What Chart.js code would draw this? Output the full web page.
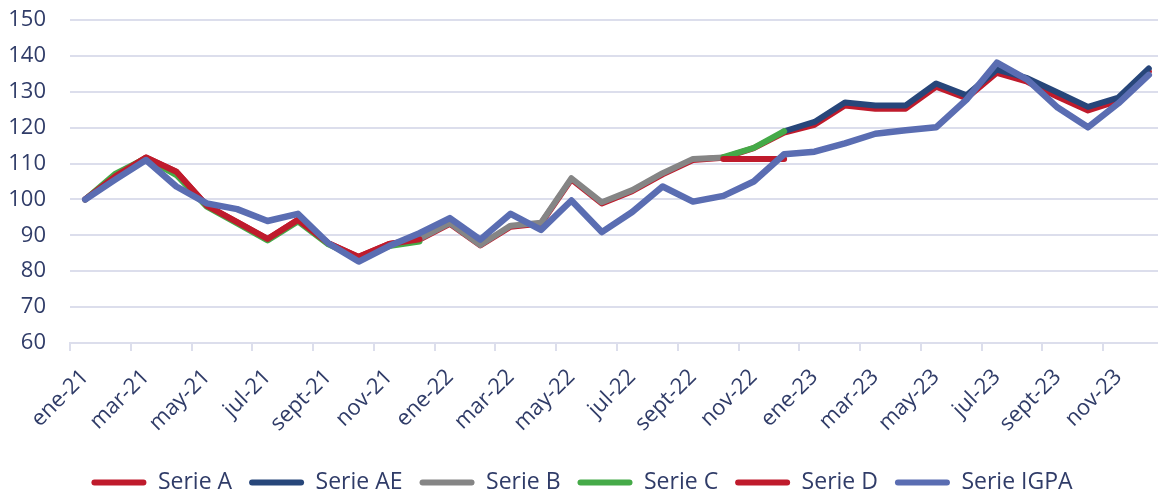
<!DOCTYPE html>
<html>
<head>
<meta charset="utf-8">
<script src="https://cdn.jsdelivr.net/npm/chart.js@4.4.0/dist/chart.umd.min.js"></script>
<style>
  html, body { margin: 0; padding: 0; background: #ffffff; overflow: hidden; }
  canvas { display: block; }
</style>
</head>
<body>
<!-- a few px wider than the window: the plot runs off the right edge like the original -->
<canvas id="IndexChart" width="1164" height="494"></canvas>
<script>
const N = null;

const months = [
    'ene-21', 'feb-21', 'mar-21', 'abr-21', 'may-21', 'jun-21', 'jul-21', 'ago-21', 'sept-21', 'oct-21', 'nov-21', 'dic-21',
    'ene-22', 'feb-22', 'mar-22', 'abr-22', 'may-22', 'jun-22', 'jul-22', 'ago-22', 'sept-22', 'oct-22', 'nov-22', 'dic-22',
    'ene-23', 'feb-23', 'mar-23', 'abr-23', 'may-23', 'jun-23', 'jul-23', 'ago-23', 'sept-23', 'oct-23', 'nov-23', 'dic-23'
];

const serieA = [100, 106.5, 111.7, 107.7, 98.3, 93.7, 89, 94.3, 87.8, 84, 87.6, 88.8,
    93.2, 87.2, 92.4, 93.3, 105.6, 98.9, 102.3, 107, 111, 111.6, 114.3, 118.6,
    120.8, 126.2, 125.3, 125.3, 131.4, 128.2, 135.3, 132.8, 128.6, 124.8, 127.5, 135.6];

const serieAE = [N, N, N, N, N, N, N, N, N, N, N, N,
    N, N, N, N, N, N, N, N, N, N, N, 119,
    121.6, 127, 126.2, 126.2, 132.3, 129, 136.2, 133.8, 129.8, 125.8, 128.4, 136.5];

const serieB = [N, N, N, N, N, N, N, N, N, N, N, 89,
    93.4, 87.3, 92.7, 93.5, 105.9, 99.2, 102.6, 107.3, 111.3, 111.7, N, N,
    N, N, N, N, N, N, N, N, N, N, N, N];

const serieC = [100, 107.2, 111.5, 106.8, 98, 93.3, 88.6, 93.9, 87.5, 83.6, 87, 88.3,
    N, N, N, N, N, N, N, N, N, 111.8, 114.4, 119,
    N, N, N, N, N, N, N, N, N, N, N, N];

const serieD = [100, 106.5, 111.7, 107.7, 98.3, 93.7, 89, 94.3, 87.8, 84, 87.6, 88.9,
    N, N, N, N, N, N, N, N, N, 111.3, 111.3, 111.3,
    N, N, N, N, N, N, N, N, N, N, N, N];

const serieIGPA = [100, 105.6, 111, 103.6, 98.9, 97.3, 94, 96, 87.8, 82.7, 87, 90.6,
    94.8, 88.8, 96, 91.5, 99.7, 90.9, 96.5, 103.6, 99.4, 101, 105, 112.6,
    113.3, 115.6, 118.3, 119.3, 120.1, 127.8, 138.1, 133.4, 125.6, 120.1, 126.8, 134.7];

const yTicks = { min: 60, max: 150, step: 10 };

const textColor = '#303c68';
const gridColor = '#dcdeec';
const fontName = "'Open Sans', 'Noto Sans', sans-serif";

const canvas = document.getElementById('IndexChart');
const ctx = canvas.getContext('2d');

// order: lower number is painted later (on top), IGPA on top, Serie A at the bottom
function line(label, data, color, width, order){
    return {
        label: label,
        data: data,
        order: order,
        borderColor: color,
        backgroundColor: color,
        borderWidth: width,
        borderCapStyle: 'round',
        borderJoinStyle: 'round',
        pointRadius: 0,
        tension: 0,
        spanGaps: false
    };
}

const chart = new Chart(ctx, {
    type: 'line',
    data: {
        labels: months,
        datasets: [
            line('Serie A', serieA, '#bf1b2c', 6, 6),
            line('Serie AE', serieAE, '#27467a', 6, 5),
            line('Serie B', serieB, '#858585', 6, 4),
            line('Serie C', serieC, '#45aa48', 6, 3),
            line('Serie D', serieD, '#bf1b2c', 6, 2),
            line('Serie IGPA', serieIGPA, '#5a6db2', 6.5, 1)
        ]
    },
    options: {
        responsive: false,
        animation: false,
        devicePixelRatio: 1,
        layout: { padding: { top: 20, right: 0, left: 0, bottom: -10 } },
        plugins: {
            tooltip: { enabled: false },
            legend: {
                display: true,
                position: 'bottom',
                labels: {
                    color: textColor,
                    font: { size: 23, family: fontName },
                    boxWidth: 55,
                    boxHeight: 6,
                    useBorderRadius: true,
                    borderRadius: 3,
                    padding: 17,
                    sort: (a, b) => a.datasetIndex - b.datasetIndex,
                    generateLabels: function(chart){
                        const items = Chart.defaults.plugins.legend.labels.generateLabels(chart);
                        items.forEach(item => { item.lineWidth = 0; });
                        return items;
                    }
                }
            }
        },
        scales: {
            x: {
                offset: true,
                afterFit: function(scale){
                    scale.height = 111;
                    scale.paddingLeft = 0;
                    scale.paddingRight = 0;
                },
                grid: {
                    offset: true,
                    drawOnChartArea: false,
                    tickLength: 8,
                    lineWidth: 2,
                    // tick marks only every second month, like the labels
                    color: (c) => (c.index % 2 === 0 ? gridColor : 'rgba(0,0,0,0)')
                },
                border: { display: true, color: gridColor, width: 2 },
                ticks: {
                    autoSkip: false,
                    maxRotation: 45,
                    minRotation: 45,
                    padding: 13,
                    color: textColor,
                    font: { size: 22, family: fontName },
                    callback: function(value, index){
                        return index % 2 === 0 ? this.getLabelForValue(value) : '';
                    }
                }
            },
            y: {
                min: yTicks.min,
                max: yTicks.max,
                afterFit: function(scale){
                    scale.width = 70;
                    scale.paddingTop = 0;
                    scale.paddingBottom = 0;
                },
                grid: { color: gridColor, lineWidth: 2, drawTicks: false },
                border: { display: false },
                ticks: {
                    stepSize: yTicks.step,
                    padding: 24,
                    color: textColor,
                    font: { size: 22, family: fontName }
                }
            }
        }
    }
});
</script>
</body>
</html>
